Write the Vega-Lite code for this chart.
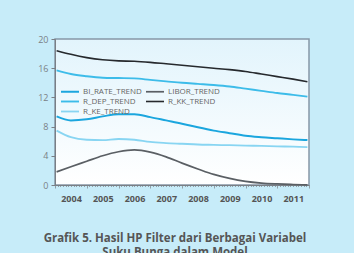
{
  "$schema": "https://vega.github.io/schema/vega-lite/v6.json",
  "width": 254,
  "height": 146,
  "autosize": "none",
  "padding": {"left": 55, "top": 39, "right": 45, "bottom": 68},
  "background": "#c7ecf9",
  "config": {
    "view": {
      "stroke": "#8797a6",
      "strokeWidth": 1.5,
      "fill": {"gradient": "linear", "x1": 0, "y1": 0, "x2": 0, "y2": 1, "stops": [{"offset": 0, "color": "#e2f4fc"}, {"offset": 1, "color": "#ffffff"}]}
    },
    "font": "Open Sans"
  },
  "title": {
    "text": ["Grafik 5. Hasil HP Filter dari Berbagai Variabel", "Suku Bunga dalam Model"],
    "orient": "bottom",
    "anchor": "middle",
    "dx": -7,
    "offset": 30,
    "fontSize": 11.5,
    "fontWeight": "bold",
    "color": "#555555",
    "font": "Open Sans",
    "lineHeight": 14
  },
  "data": {
    "values": [
      {"t": 2004.05, "BI_RATE_TREND": 9.4, "LIBOR_TREND": 1.8, "R_DEP_TREND": 15.7, "R_KK_TREND": 18.4, "R_KE_TREND": 7.45},
      {"t": 2004.5, "BI_RATE_TREND": 8.85, "LIBOR_TREND": 2.5, "R_DEP_TREND": 15.2, "R_KK_TREND": 17.9, "R_KE_TREND": 6.55},
      {"t": 2005, "BI_RATE_TREND": 9.0, "LIBOR_TREND": 3.25, "R_DEP_TREND": 14.9, "R_KK_TREND": 17.45, "R_KE_TREND": 6.2},
      {"t": 2005.5, "BI_RATE_TREND": 9.4, "LIBOR_TREND": 4.0, "R_DEP_TREND": 14.7, "R_KK_TREND": 17.15, "R_KE_TREND": 6.15},
      {"t": 2006, "BI_RATE_TREND": 9.7, "LIBOR_TREND": 4.55, "R_DEP_TREND": 14.65, "R_KK_TREND": 17.0, "R_KE_TREND": 6.3},
      {"t": 2006.5, "BI_RATE_TREND": 9.7, "LIBOR_TREND": 4.8, "R_DEP_TREND": 14.6, "R_KK_TREND": 16.95, "R_KE_TREND": 6.2},
      {"t": 2007, "BI_RATE_TREND": 9.3, "LIBOR_TREND": 4.5, "R_DEP_TREND": 14.4, "R_KK_TREND": 16.8, "R_KE_TREND": 5.9},
      {"t": 2007.5, "BI_RATE_TREND": 8.85, "LIBOR_TREND": 3.85, "R_DEP_TREND": 14.2, "R_KK_TREND": 16.6, "R_KE_TREND": 5.75},
      {"t": 2008, "BI_RATE_TREND": 8.4, "LIBOR_TREND": 3.0, "R_DEP_TREND": 14.0, "R_KK_TREND": 16.4, "R_KE_TREND": 5.65},
      {"t": 2008.5, "BI_RATE_TREND": 7.9, "LIBOR_TREND": 2.2, "R_DEP_TREND": 13.85, "R_KK_TREND": 16.2, "R_KE_TREND": 5.55},
      {"t": 2009, "BI_RATE_TREND": 7.45, "LIBOR_TREND": 1.45, "R_DEP_TREND": 13.7, "R_KK_TREND": 16.0, "R_KE_TREND": 5.5},
      {"t": 2009.5, "BI_RATE_TREND": 7.1, "LIBOR_TREND": 0.9, "R_DEP_TREND": 13.5, "R_KK_TREND": 15.8, "R_KE_TREND": 5.45},
      {"t": 2010, "BI_RATE_TREND": 6.75, "LIBOR_TREND": 0.5, "R_DEP_TREND": 13.2, "R_KK_TREND": 15.55, "R_KE_TREND": 5.4},
      {"t": 2010.5, "BI_RATE_TREND": 6.55, "LIBOR_TREND": 0.27, "R_DEP_TREND": 12.9, "R_KK_TREND": 15.2, "R_KE_TREND": 5.35},
      {"t": 2011, "BI_RATE_TREND": 6.4, "LIBOR_TREND": 0.15, "R_DEP_TREND": 12.6, "R_KK_TREND": 14.85, "R_KE_TREND": 5.3},
      {"t": 2011.5, "BI_RATE_TREND": 6.25, "LIBOR_TREND": 0.07, "R_DEP_TREND": 12.35, "R_KK_TREND": 14.5, "R_KE_TREND": 5.25},
      {"t": 2011.95, "BI_RATE_TREND": 6.15, "LIBOR_TREND": 0.02, "R_DEP_TREND": 12.1, "R_KK_TREND": 14.15, "R_KE_TREND": 5.2}
    ]
  },
  "transform": [
    {"fold": ["BI_RATE_TREND", "LIBOR_TREND", "R_DEP_TREND", "R_KK_TREND", "R_KE_TREND"], "as": ["series", "value"]}
  ],
  "mark": {"type": "line", "interpolate": "monotone"},
  "encoding": {
    "x": {
      "field": "t",
      "type": "quantitative",
      "scale": {"domain": [2004, 2012], "nice": false, "zero": false},
      "axis": {
        "title": null,
        "grid": false,
        "values": [2004, 2004.0833, 2004.1667, 2004.25, 2004.3333, 2004.4167, 2004.5, 2004.5833, 2004.6667, 2004.75, 2004.8333, 2004.9167,
                   2005, 2005.0833, 2005.1667, 2005.25, 2005.3333, 2005.4167, 2005.5, 2005.5833, 2005.6667, 2005.75, 2005.8333, 2005.9167,
                   2006, 2006.0833, 2006.1667, 2006.25, 2006.3333, 2006.4167, 2006.5, 2006.5833, 2006.6667, 2006.75, 2006.8333, 2006.9167,
                   2007, 2007.0833, 2007.1667, 2007.25, 2007.3333, 2007.4167, 2007.5, 2007.5833, 2007.6667, 2007.75, 2007.8333, 2007.9167,
                   2008, 2008.0833, 2008.1667, 2008.25, 2008.3333, 2008.4167, 2008.5, 2008.5833, 2008.6667, 2008.75, 2008.8333, 2008.9167,
                   2009, 2009.0833, 2009.1667, 2009.25, 2009.3333, 2009.4167, 2009.5, 2009.5833, 2009.6667, 2009.75, 2009.8333, 2009.9167,
                   2010, 2010.0833, 2010.1667, 2010.25, 2010.3333, 2010.4167, 2010.5, 2010.5833, 2010.6667, 2010.75, 2010.8333, 2010.9167,
                   2011, 2011.0833, 2011.1667, 2011.25, 2011.3333, 2011.4167, 2011.5, 2011.5833, 2011.6667, 2011.75, 2011.8333, 2011.9167, 2012],
        "labelExpr": "(datum.value % 1 === 0 && datum.value < 2012) ? '' + datum.value : ''",
        "labelOverlap": false,
        "labelFlush": false,
        "labelOffset": 16,
        "labelPadding": 6,
        "labelFontSize": 9,
        "labelFontWeight": "bold",
        "labelColor": "#555555",
        "labelFont": "Open Sans",
        "domainColor": "#7a7f85",
        "tickColor": "#7a7f85",
        "tickSize": {"condition": {"test": "datum.value % 1 === 0", "value": 3}, "value": 1.5},
        "tickWidth": 0.7
      }
    },
    "y": {
      "field": "value",
      "type": "quantitative",
      "scale": {"domain": [0, 20], "nice": false},
      "axis": {
        "title": null,
        "grid": false,
        "values": [0, 4, 8, 12, 16, 20],
        "labelFontSize": 9,
        "labelColor": "#7a7f85",
        "labelFont": "Open Sans",
        "labelPadding": 3,
        "domainColor": "#7a7f85",
        "tickColor": "#7a7f85",
        "tickSize": 4
      }
    },
    "color": {
      "field": "series",
      "type": "nominal",
      "scale": {
        "domain": ["BI_RATE_TREND", "R_DEP_TREND", "R_KE_TREND", "LIBOR_TREND", "R_KK_TREND"],
        "range": ["#1ba6de", "#3dbce9", "#88d5f2", "#5a5f64", "#26292d"]
      },
      "legend": {
        "title": null,
        "orient": "none",
        "legendX": 5,
        "legendY": 47,
        "columns": 2,
        "columnPadding": 0,
        "rowPadding": -1.5,
        "symbolType": "M-1,0H3",
        "symbolSize": 81,
        "symbolStrokeWidth": 2,
        "labelFontSize": 8,
        "labelColor": "#666666",
        "labelFont": "Liberation Sans Narrow, Open Sans",
        "labelOffset": 12
      }
    },
    "strokeWidth": {
      "field": "series",
      "type": "nominal",
      "scale": {
        "domain": ["BI_RATE_TREND", "R_DEP_TREND", "R_KE_TREND", "LIBOR_TREND", "R_KK_TREND"],
        "range": [2, 1.6, 1.6, 1.6, 1.6]
      },
      "legend": null
    }
  }
}
